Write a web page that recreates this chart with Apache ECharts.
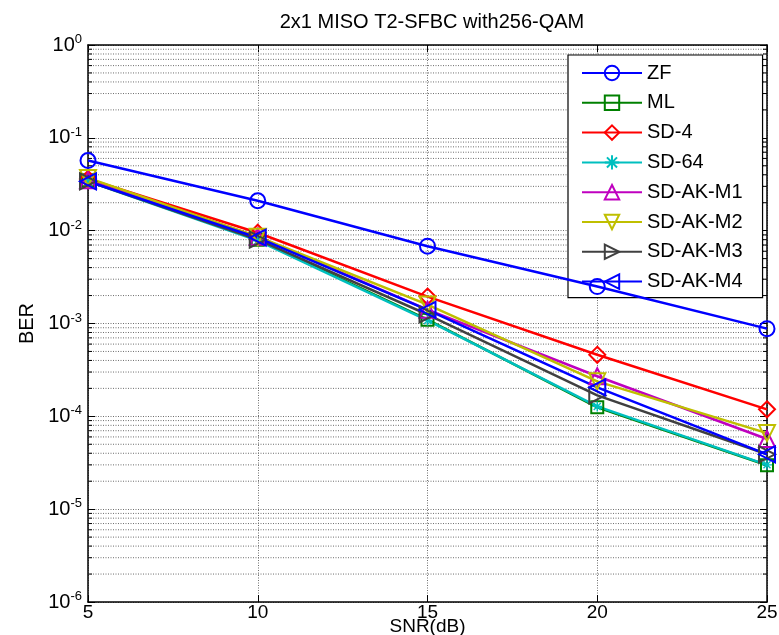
<!DOCTYPE html>
<html>
<head>
<meta charset="utf-8">
<script src="https://cdn.jsdelivr.net/npm/echarts@6/dist/echarts.min.js"></script>
<style>
  html, body { margin: 0; padding: 0; background: #fff; }
  #chart { width: 779px; height: 635px; }
</style>
</head>
<body>
<div id="chart"></div>
<script>
// SNR points (dB)
const snr = [5, 10, 15, 20, 25];

// BER curves
const berZF    = [0.057, 0.021, 0.0068, 0.0025, 8.8e-4];
const berML    = [0.035, 0.0080, 0.0011, 1.25e-4, 2.97e-5];
const berSD4   = [0.036, 0.0095, 0.00195, 4.6e-4, 1.19e-4];
const berSD64  = [0.034, 0.0078, 0.00108, 1.28e-4, 3.0e-5];
const berAKM1  = [0.035, 0.0086, 0.00141, 2.7e-4, 5.7e-5];
const berAKM2  = [0.037, 0.0086, 0.0016, 2.38e-4, 6.6e-5];
const berAKM3  = [0.034, 0.0080, 0.00125, 1.68e-4, 3.9e-5];
const berAKM4  = [0.034, 0.0084, 0.0014, 2.05e-4, 3.9e-5];

// Axis ticks
const xTicks = [5, 10, 15, 20, 25];
const yDecades = [1e-6, 1e-5, 1e-4, 1e-3, 1e-2, 1e-1, 1];

// Minor log positions (2..9 within each decade)
const yMinor = [];
for (let k = 0; k < yDecades.length - 1; k++) {
  for (let m = 2; m <= 9; m++) yMinor.push(m * yDecades[k]);
}

const FONT = 'Liberation Sans, Arial, Helvetica, sans-serif';
const GRID_COLOR = '#6e6e6e';
const GRID_DASH = [1, 1.5];

const asterisk = 'path://M-0.7,-5L0.7,-5L0.7,5L-0.7,5Z M-5,-0.7L5,-0.7L5,0.7L-5,0.7Z ' +
  'M-3,-4L4,3L3,4L-4,-3Z M3,-4L4,-3L-3,4L-4,3Z';

function curve(name, values, color, symbol, size, rotate, filled) {
  return {
    name: name,
    type: 'line',
    xAxisIndex: 0,
    yAxisIndex: 0,
    data: snr.map((s, i) => [s, values[i]]),
    symbol: symbol,
    symbolSize: size,
    symbolRotate: rotate || 0,
    showAllSymbol: true,
    lineStyle: { color: color, width: 2.5 },
    itemStyle: filled
      ? { color: color, borderWidth: 0 }
      : { color: 'rgba(255,255,255,0)', borderColor: color, borderWidth: 2 },
    emphasis: { disabled: true },
    z: 5
  };
}

const chart = echarts.init(document.getElementById('chart'), null, { renderer: 'canvas' });

chart.setOption({
  animation: false,
  backgroundColor: '#fff',
  textStyle: { fontFamily: FONT },
  title: {
    text: '2x1 MISO T2-SFBC with256-QAM',
    left: 427, top: 7, textAlign: 'center',
    textStyle: { fontSize: 20, fontWeight: 'normal', color: '#000', fontFamily: FONT }
  },
  grid: { left: 88, right: 12, top: 45, bottom: 33, containLabel: false, outerBoundsMode: 'none' },
  xAxis: [
    {
      type: 'value', min: 5, max: 25, interval: 5,
      name: 'SNR(dB)', nameLocation: 'middle', nameGap: 15, nameMoveOverlap: false,
      nameTextStyle: { fontSize: 19, lineHeight: 19, color: '#000', fontFamily: FONT, verticalAlign: 'top' },
      axisLine: { show: true, lineStyle: { color: '#000', width: 1.5 } },
      axisTick: { show: true, inside: true, length: 7, lineStyle: { color: '#000' } },
      axisLabel: { fontSize: 19, color: '#000', margin: 1, fontFamily: FONT,
        customValues: xTicks, formatter: v => String(v) },
      splitLine: { show: true, lineStyle: { color: GRID_COLOR, type: GRID_DASH, width: 1 } }
    },
    {
      type: 'value', min: 5, max: 25, interval: 5, position: 'top',
      axisLine: { show: true, lineStyle: { color: '#000', width: 1.5 } },
      axisTick: { show: true, inside: true, length: 7, lineStyle: { color: '#000' } },
      axisLabel: { show: false },
      splitLine: { show: false }
    }
  ],
  yAxis: [
    {
      type: 'log', logBase: 10, min: 1e-6, max: 1,
      name: 'BER', nameLocation: 'middle', nameGap: 51, nameRotate: 90, nameMoveOverlap: false,
      nameTextStyle: { fontSize: 20, color: '#000', fontFamily: FONT },
      axisLine: { show: true, lineStyle: { color: '#000', width: 1.5 } },
      axisTick: { show: true, inside: true, length: 7, lineStyle: { color: '#000' } },
      axisLabel: {
        color: '#000', margin: 6,
        formatter: v => '{b|10}{s|' + Math.round(Math.log10(v)) + '}',
        rich: {
          b: { fontSize: 20, fontFamily: FONT, color: '#000' },
          s: { fontSize: 13, fontFamily: FONT, color: '#000', padding: [0, 0, 11, 0] }
        }
      },
      splitLine: { show: true, lineStyle: { color: GRID_COLOR, type: GRID_DASH, width: 1 } }
    },
    {
      type: 'log', logBase: 10, min: 1e-6, max: 1, position: 'right',
      axisLine: { show: true, lineStyle: { color: '#000', width: 1.5 } },
      axisTick: { show: true, inside: true, length: 7, lineStyle: { color: '#000' } },
      axisLabel: { show: false },
      splitLine: { show: false }
    }
  ],
  legend: {
    orient: 'vertical',
    left: 568, top: 55,
    padding: [8, 20, 6, 13],
    itemWidth: 60, itemHeight: 18, itemGap: 9.8,
    itemTextGap: 9,
    backgroundColor: '#fff',
    borderColor: '#000', borderWidth: 1.2,
    textStyle: { fontSize: 20, color: '#000', fontFamily: FONT, lineHeight: 18 },
    data: ['ZF', 'ML', 'SD-4', 'SD-64', 'SD-AK-M1', 'SD-AK-M2', 'SD-AK-M3', 'SD-AK-M4']
  },
  series: [
    {
      // minor log grid lines plus inner minor ticks on both sides
      type: 'custom',
      xAxisIndex: 0, yAxisIndex: 0,
      silent: true,
      z: 1,
      data: yMinor.map(v => [snr[0], v]),
      renderItem: function (params, api) {
        const v = api.value(1);
        const p0 = api.coord([xTicks[0], v]);
        const p1 = api.coord([xTicks[xTicks.length - 1], v]);
        return {
          type: 'group',
          children: [
            { type: 'line', shape: { x1: p0[0], y1: p0[1], x2: p1[0], y2: p1[1] },
              style: { stroke: GRID_COLOR, lineWidth: 1, lineDash: GRID_DASH } },
            { type: 'line', shape: { x1: p0[0], y1: p0[1], x2: p0[0] + 4, y2: p0[1] },
              style: { stroke: '#000', lineWidth: 1 } },
            { type: 'line', shape: { x1: p1[0] - 4, y1: p1[1], x2: p1[0], y2: p1[1] },
              style: { stroke: '#000', lineWidth: 1 } }
          ]
        };
      }
    },
    curve('ZF', berZF, '#0000ff', 'circle', 15, 0, false),
    curve('ML', berML, '#008000', 'rect', 12, 0, false),
    curve('SD-4', berSD4, '#ff0000', 'diamond', 16, 0, false),
    curve('SD-64', berSD64, '#00bfbf', asterisk, 10, 0, true),
    curve('SD-AK-M1', berAKM1, '#bf00bf', 'triangle', 16, 0, false),
    curve('SD-AK-M2', berAKM2, '#bfbf00', 'triangle', 16, 180, false),
    curve('SD-AK-M3', berAKM3, '#404040', 'triangle', 16, -90, false),
    curve('SD-AK-M4', berAKM4, '#0000ff', 'triangle', 16, 90, false)
  ]
});
</script>
</body>
</html>
